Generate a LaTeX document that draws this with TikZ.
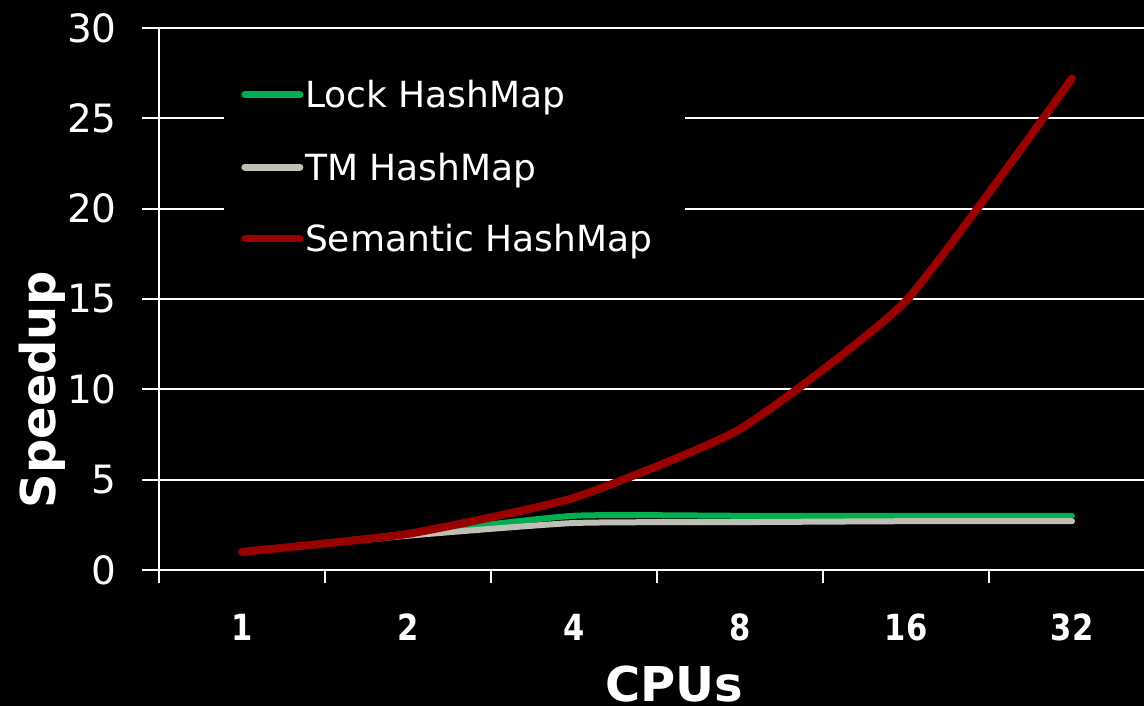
\documentclass[tikz,border=0pt]{standalone}
\usepackage{fontspec}
\setmainfont{DejaVu Sans}
\usetikzlibrary{positioning}
\definecolor{lockgreen}{RGB}{0,176,80}
\definecolor{tmgray}{RGB}{191,191,181}
\definecolor{semred}{RGB}{153,0,0}
\tikzset{
  gridline/.style={white,line width=2pt},
  series/.style={line width=6pt,line cap=round,line join=round,smooth,tension=0.3},
  ytick/.style={anchor=east,inner sep=0pt,text=white,font=\fontsize{39}{40}\selectfont},
  xtick/.style={inner sep=0pt,text=white,xscale=0.85,font=\fontsize{36}{38}\selectfont\bfseries},
  legtext/.style={anchor=base west,inner sep=0pt,text=white,font=\fontsize{36}{38}\selectfont},
  legline/.style={line width=7pt,line cap=round},
  axtitle/.style={inner sep=0pt,text=white,font=\fontsize{48}{50}\selectfont\bfseries}
}
\begin{document}
\begin{tikzpicture}[x=1pt,y=1pt]
\fill[black] (0,0) rectangle (1144,706);
\useasboundingbox (0,0) rectangle (1144,706);
\begin{scope}[shift={(159pt,136pt)},x=166pt,y=18.07pt]
  % grid and axes
  \foreach \v in {5,10,...,30}
    \draw[gridline] (-0.1024,\v) -- (5.94,\v);
  \draw[gridline] (-0.1024,0) -- (5.94,0);
  \draw[gridline] (0,30) -- (0,-0.72);
  \foreach \i in {1,...,5}
    \draw[gridline] (\i,0) -- (\i,-0.72);
  \foreach \v in {0,5,...,30}
    \node[ytick] (y\v) at (-0.253,\v) {\v};
  \foreach \c [count=\i] in {1,2,4,8,16,32}
    \node[xtick] (x\c) at (\i-0.5,-3.15) {\c};
  % data
  \draw[series,lockgreen] plot coordinates {(0.5,1) (1.5,2) (2.5,3) (3.5,3) (4.5,3) (5.5,3)};
  \draw[series,tmgray] plot coordinates {(0.5,1) (1.5,1.9) (2.5,2.6) (3.5,2.65) (4.5,2.7) (5.5,2.7)};
  \draw[series,semred,line width=8pt] plot coordinates {(0.5,1) (1.5,2) (2.5,4) (3.5,7.8) (4.5,14.9) (5.5,27.2)};
  % legend
  \fill[black] (0.3916,16.3) rectangle (3.169,29.05);
  \coordinate (lk) at (0.849,26.29);
  \coordinate (tm) at (0.849,22.30);
  \coordinate (se) at (0.849,18.32);
  \draw[legline,lockgreen] (lk) -- ++(-55pt,0);
  \draw[legline,tmgray] (tm) -- ++(-55pt,0);
  \draw[legline,semred] (se) -- ++(-55pt,0);
  \node[legtext] (lock) at ([xshift=5pt,yshift=-13pt]lk) {Lock HashMap};
  \node[legtext] (tmmap) at ([xshift=5pt,yshift=-13pt]tm) {TM HashMap};
  \node[legtext] (semmap) at ([xshift=5pt,yshift=-13pt]se) {Semantic HashMap};
\end{scope}
\node[axtitle,anchor=base] (cpus) at (674,4) {CPUs};
\node[axtitle,anchor=base,rotate=90] (speedup) at (55,316) {Speedup};
\end{tikzpicture}
\end{document}
